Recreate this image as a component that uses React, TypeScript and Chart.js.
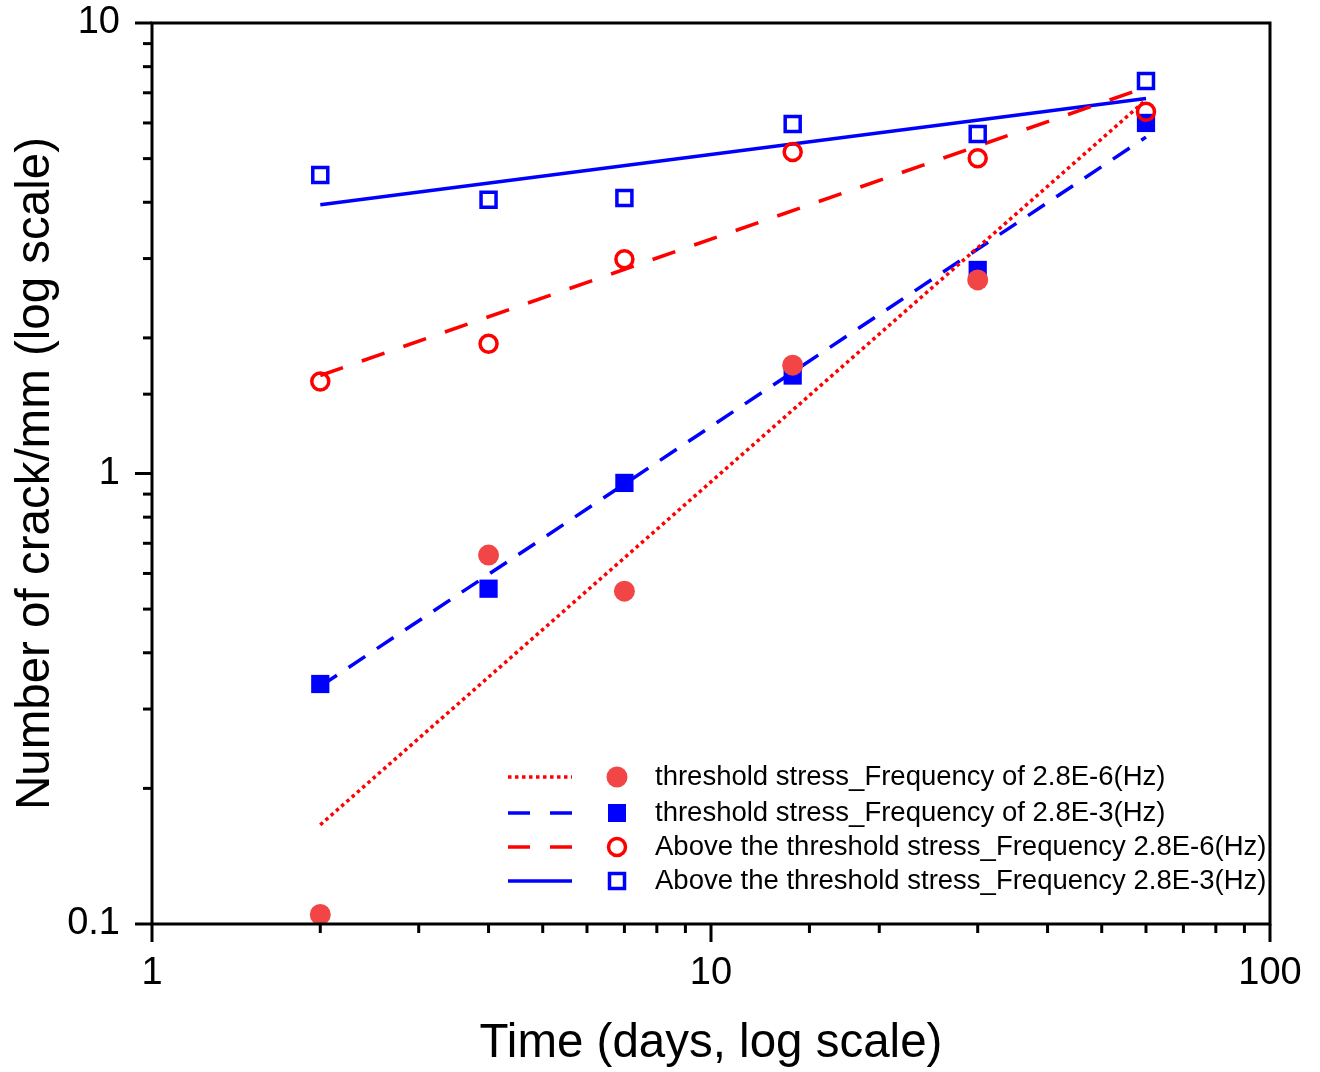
import React, { useEffect, useRef } from 'react';
import { Chart, registerables } from 'chart.js';

Chart.register(...registerables);

// ---- data ----
const days = [2, 4, 7, 14, 30, 60];
const threshold6 = [0.105, 0.659, 0.548, 1.74, 2.69, null];
const threshold3 = [0.341, 0.555, 0.953, 1.65, 2.83, 6.0];
const above6 = [1.6, 1.94, 2.99, 5.17, 5.01, 6.35];
const above3 = [4.6, 4.05, 4.09, 5.97, 5.67, 7.43];

const fitDays = [2, 60];
const fitThreshold6 = [0.166, 6.75];
const fitThreshold3 = [0.337, 5.58];
const fitAbove6 = [1.65, 7.2];
const fitAbove3 = [3.95, 6.8];

const xTickLabels = ['1', '10', '100'];
const xTickValues = [1, 10, 100];
const yTickLabels = ['0.1', '1', '10'];
const yTickValues = [0.1, 1, 10];

const legendLabels = [
  'threshold stress_Frequency of 2.8E-6(Hz)',
  'threshold stress_Frequency of 2.8E-3(Hz)',
  'Above the threshold stress_Frequency 2.8E-6(Hz)',
  'Above the threshold stress_Frequency 2.8E-3(Hz)',
];

const xTitle = 'Time (days, log scale)';
const yTitle = 'Number of crack/mm (log scale)';

const FONT = "'Liberation Sans', Arial, sans-serif";
const RED = '#FF0000';
const RED_FILL = '#F24646';
const BLUE = '#0000FF';

const pts = (xs: number[], ys: (number | null)[]) =>
  xs.map((x, i) => ({ x, y: ys[i] })).filter((p) => p.y !== null);

type Sty = {
  color: string;
  dash: number[];
  legendDash: number[];
  marker: 'circle' | 'rect';
  filled: boolean;
  markerColor: string;
};
const styles: Sty[] = [
  { color: RED, dash: [3.5, 3.5], legendDash: [3.5, 3.5], marker: 'circle', filled: true, markerColor: RED_FILL },
  { color: BLUE, dash: [20, 14], legendDash: [22, 20], marker: 'rect', filled: true, markerColor: BLUE },
  { color: RED, dash: [24, 20], legendDash: [22, 20], marker: 'circle', filled: false, markerColor: RED },
  { color: BLUE, dash: [], legendDash: [], marker: 'rect', filled: false, markerColor: BLUE },
];

function drawMarker(ctx: CanvasRenderingContext2D, s: Sty, x: number, y: number) {
  ctx.save();
  ctx.setLineDash([]);
  if (s.marker === 'circle') {
    ctx.beginPath();
    if (s.filled) {
      ctx.arc(x, y, 10.5, 0, Math.PI * 2);
      ctx.fillStyle = s.markerColor;
      ctx.fill();
    } else {
      ctx.arc(x, y, 8.5, 0, Math.PI * 2);
      ctx.lineWidth = 3.5;
      ctx.strokeStyle = s.markerColor;
      ctx.stroke();
    }
  } else {
    if (s.filled) {
      ctx.fillStyle = s.markerColor;
      ctx.fillRect(x - 9, y - 9, 18, 18);
    } else {
      ctx.lineWidth = 3.5;
      ctx.strokeStyle = s.markerColor;
      ctx.strokeRect(x - 7.5, y - 7.5, 15, 15);
    }
  }
  ctx.restore();
}

const framePlugin = {
  id: 'frameTicks',
  afterDraw(chart: any) {
    const { ctx, chartArea } = chart;
    const { left, right, top, bottom } = chartArea;
    ctx.save();
    ctx.strokeStyle = '#000';
    ctx.lineWidth = 3;
    ctx.setLineDash([]);
    ctx.strokeRect(left, top, right - left, bottom - top);
    const isMajor = (v: number) => Math.abs(Math.log10(v) - Math.round(Math.log10(v))) < 1e-6;
    const xs = chart.scales.x;
    xs.ticks.forEach((t: any) => {
      const px = xs.getPixelForValue(t.value);
      const len = isMajor(t.value) ? 18 : 9;
      ctx.beginPath();
      ctx.moveTo(px, bottom);
      ctx.lineTo(px, bottom + len);
      ctx.stroke();
    });
    const ys = chart.scales.y;
    ys.ticks.forEach((t: any) => {
      const py = ys.getPixelForValue(t.value);
      const len = isMajor(t.value) ? 17 : 9;
      ctx.beginPath();
      ctx.moveTo(left, py);
      ctx.lineTo(left - len, py);
      ctx.stroke();
    });

    // legend
    const rows = [777, 813, 847, 881];
    ctx.font = `27.5px ${FONT}`;
    ctx.textBaseline = 'middle';
    ctx.textAlign = 'left';
    styles.forEach((s, i) => {
      const y = rows[i];
      ctx.beginPath();
      ctx.strokeStyle = s.color;
      ctx.lineWidth = 3.5;
      ctx.lineCap = 'butt';
      ctx.setLineDash(s.legendDash);
      ctx.moveTo(508, y);
      ctx.lineTo(572, y);
      ctx.stroke();
      ctx.setLineDash([]);
      drawMarker(ctx, s, 617, y);
      ctx.fillStyle = '#000';
      ctx.fillText(legendLabels[i], 655, y);
    });
    ctx.restore();
  },
};

const labelFor = (values: number[], labels: string[]) => (v: any) => {
  const idx = values.findIndex((t) => Math.abs(t - Number(v)) / t < 1e-6);
  return idx >= 0 ? labels[idx] : '';
};

export default function App() {
  const ref = useRef<HTMLCanvasElement | null>(null);
  useEffect(() => {
    if (!ref.current) return;
    const fitSets = [fitThreshold6, fitThreshold3, fitAbove6, fitAbove3];
    const ptSets = [threshold6, threshold3, above6, above3];
    const pointDatasets = ptSets.map((d, i) => {
      const s = styles[i];
      return {
        label: legendLabels[i],
        data: pts(days, d as (number | null)[]),
        showLine: false,
        pointStyle: s.marker,
        pointRadius: s.marker === 'circle' ? (s.filled ? 10.5 : 8.5) : s.filled ? 12.9 : 10.6,
        pointBorderWidth: s.filled ? 0 : 3.5,
        pointBackgroundColor: s.filled ? s.markerColor : 'rgba(0,0,0,0)',
        pointBorderColor: s.markerColor,
        pointHoverRadius: 0,
      };
    });
    const lineDatasets = fitSets.map((d, i) => {
      const s = styles[i];
      return {
        label: 'fit ' + legendLabels[i],
        data: pts(fitDays, d),
        showLine: true,
        borderColor: s.color,
        borderWidth: 3.5,
        borderDash: s.dash,
        borderCapStyle: 'butt',
        pointRadius: 0,
        fill: false,
      };
    });
    // lower index is drawn on top
    const datasets = [
      pointDatasets[3],
      pointDatasets[2],
      pointDatasets[0],
      pointDatasets[1],
      ...lineDatasets,
    ];
    const chart = new Chart(ref.current, {
      type: 'scatter',
      data: { datasets: datasets as any },
      options: {
        animation: false,
        responsive: true,
        maintainAspectRatio: false,
        layout: { padding: { top: 23, right: 50, left: 0, bottom: 0 } },
        plugins: { legend: { display: false }, tooltip: { enabled: false } },
        scales: {
          x: {
            type: 'logarithmic',
            min: 1,
            max: 100,
            grid: { display: false, drawTicks: false },
            border: { display: false },
            ticks: {
              autoSkip: false,
              maxRotation: 0,
              padding: 27,
              color: '#000',
              font: { family: FONT, size: 38 },
              callback: labelFor(xTickValues, xTickLabels),
            },
            title: {
              display: true,
              text: xTitle,
              color: '#000',
              font: { family: FONT, size: 47.5 },
              padding: { top: 0, bottom: 0 },
            },
            afterFit: (scale: any) => {
              scale.height = 148;
              scale.paddingLeft = 0;
              scale.paddingRight = 0;
            },
          },
          y: {
            type: 'logarithmic',
            min: 0.1,
            max: 10,
            grid: { display: false, drawTicks: false },
            border: { display: false },
            ticks: {
              autoSkip: false,
              padding: 32,
              color: '#000',
              font: { family: FONT, size: 38 },
              callback: labelFor(yTickValues, yTickLabels),
            },
            title: {
              display: true,
              text: yTitle,
              color: '#000',
              font: { family: FONT, size: 47.5 },
              padding: { top: 7, bottom: 0 },
            },
            afterFit: (scale: any) => {
              scale.width = 152;
              scale.paddingTop = 0;
              scale.paddingBottom = 0;
            },
          },
        },
      },
      plugins: [framePlugin],
    });
    return () => chart.destroy();
  }, []);
  return (
    <div style={{ position: 'fixed', left: 0, top: 0, width: 1320, height: 1072, background: '#fff' }}>
      <canvas ref={ref} />
    </div>
  );
}
